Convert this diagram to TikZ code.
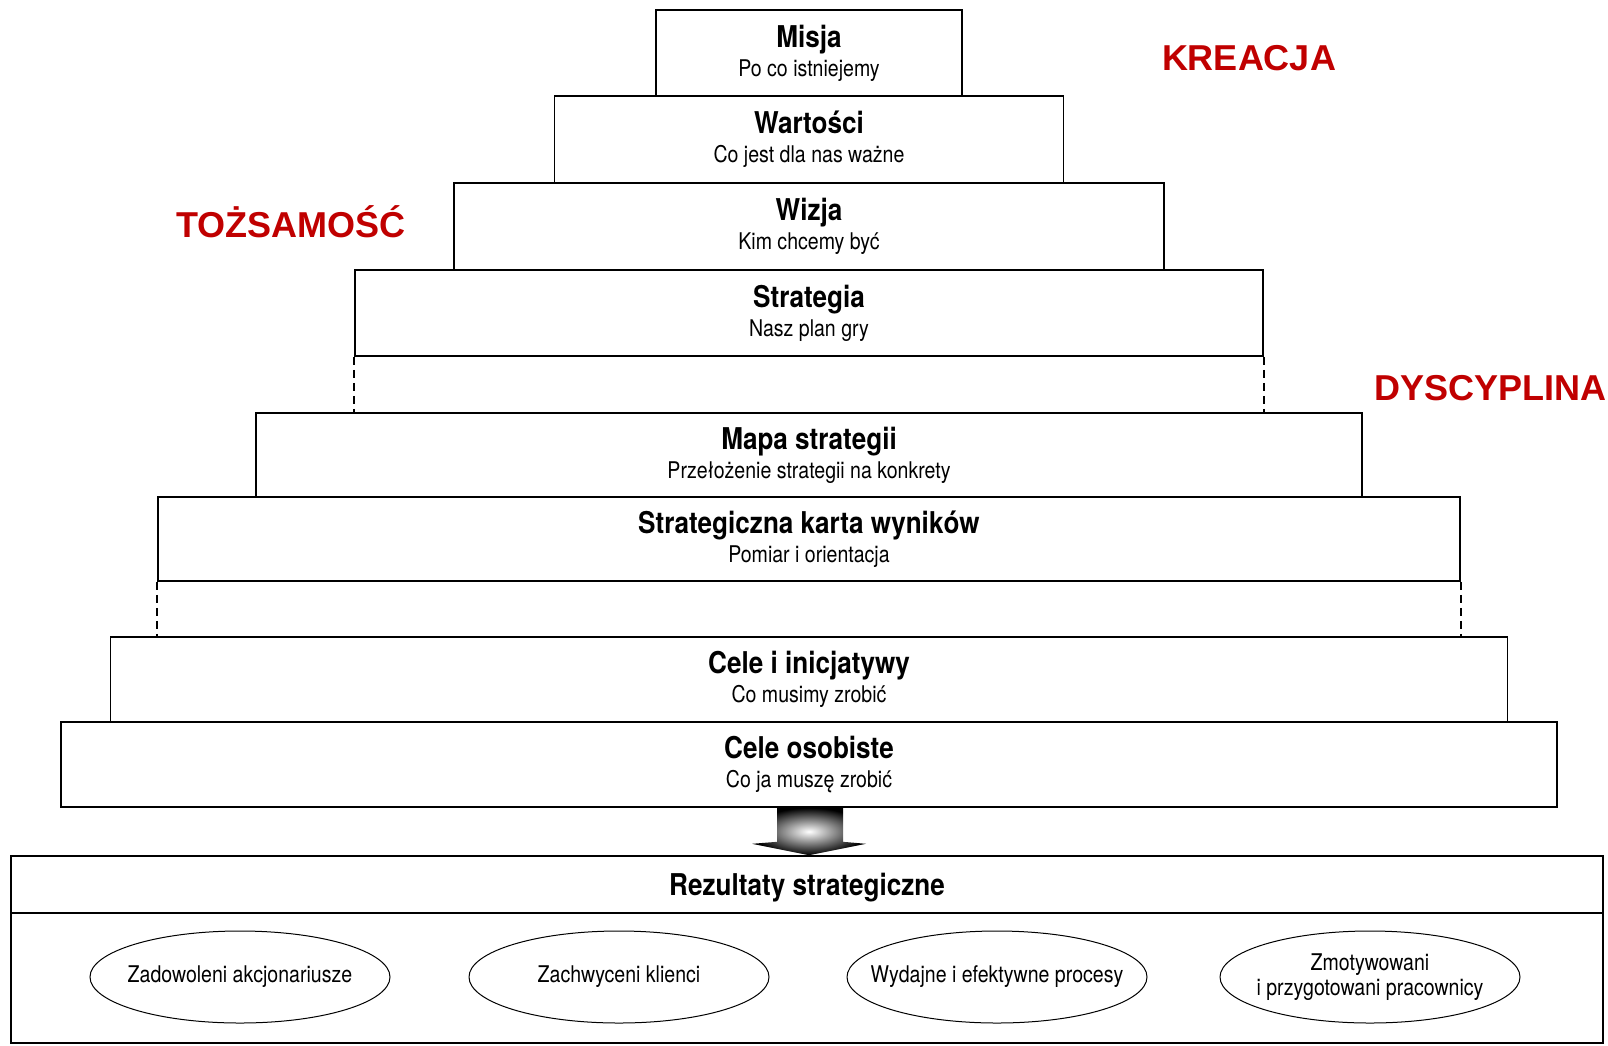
\documentclass[tikz,border=0pt]{standalone}
\usepackage{fontspec}
\setmainfont{Liberation Sans}
\newfontfamily\cnfont{TeX Gyre Heros}[FakeStretch=0.85]
\newfontfamily\cntitlefont{TeX Gyre Heros}[FakeStretch=0.87]
\usetikzlibrary{positioning,calc,shapes.geometric}
\definecolor{labelred}{RGB}{192,0,0}
\newcommand{\tiertitle}[1]{{\cntitlefont\fontsize{30}{29}\selectfont\bfseries #1}}
\tikzset{
  tier/.style={draw, line width=1.6pt, inner sep=0pt, align=center,
    font=\cnfont\fontsize{23}{29}\selectfont},
  gapline/.style={line width=1.6pt, dash pattern=on 8pt off 5pt},
  goal/.style={draw, ellipse, line width=1pt, minimum width=300pt,
    minimum height=92pt, inner xsep=-30pt, inner ysep=0pt, align=center,
    font=\cnfont\fontsize{23}{25}\selectfont},
  sidelabel/.style={text=labelred, inner sep=0pt, anchor=base,
    font=\bfseries\fontsize{36}{40}\selectfont}
}
\begin{document}
\begin{tikzpicture}[x=1pt,y=-1pt]
  \useasboundingbox (0,0) rectangle (1608,1045);
  % pyramid
  \foreach \n/\w/\h/\y/\t/\s in {%
    1/306/86/53/Misja/Po co istniejemy,
    2/509/87/139.5/Wartości/Co jest dla nas ważne,
    3/710/87/226.5/Wizja/Kim chcemy być,
    4/908/86/313/Strategia/Nasz plan gry,
    5/1106/84/455/Mapa strategii/Przełożenie strategii na konkrety,
    6/1302/84/539/Strategiczna karta wyników/Pomiar i orientacja,
    7/1397/85/679.5/Cele i inicjatywy/Co musimy zrobić,
    8/1496/85/764.5/Cele osobiste/Co ja muszę zrobić} {
      \node[tier, minimum width=\w pt, minimum height=\h pt] (t\n) at (809,\y) {\tiertitle{\t}\\\s};
  }
  \draw[gapline] (t4.south west) -- (t4.south west |- t5.north);
  \draw[gapline] (t4.south east) -- (t4.south east |- t5.north);
  \draw[gapline] (t6.south west) -- (t6.south west |- t7.north);
  \draw[gapline] (t6.south east) -- (t6.south east |- t7.north);
  % results
  \node[tier, minimum width=1592pt, minimum height=57pt, text depth=0pt] (reshead) at (807,884.5) {\tiertitle{Rezultaty strategiczne}};
  \node[tier, minimum width=1592pt, minimum height=130pt] (resbody) at (807,978) {};
  \foreach \x/\l in {240/Zadowoleni akcjonariusze, 619/Zachwyceni klienci,
    997/Wydajne i efektywne procesy, 1370/{Zmotywowani\\i przygotowani pracownicy}} {
      \node[goal] (g\x) at (\x,977) {\l};
  }
  % block arrow
  \shade[inner color=white, outer color=black]
    ($(t8.south)+(-32,0)$) -- ($(t8.south)+(-32,34)$) -- ($(t8.south)+(-57,36)$) --
    (t8.south |- reshead.north) --
    ($(t8.south)+(57,36)$) -- ($(t8.south)+(34,34)$) -- ($(t8.south)+(34,0)$) -- cycle;
  % side labels
  \node[sidelabel] (kreacja) at (1249,70) {KREACJA};
  \node[sidelabel] (tozsamosc) at (291,237) {TOŻSAMOŚĆ};
  \node[sidelabel, anchor=base east] (dyscyplina) at (1607,400) {DYSCYPLINA};
\end{tikzpicture}
\end{document}
